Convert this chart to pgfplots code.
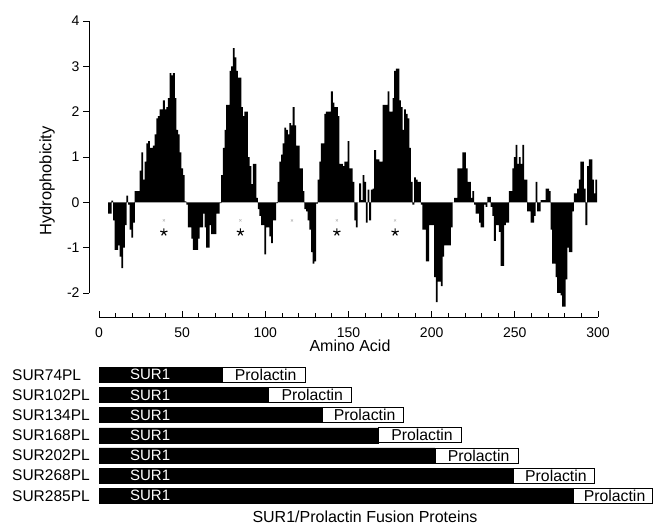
\documentclass[border=0pt]{standalone}
\usepackage{fontspec}
\setmainfont{Liberation Sans}
\usepackage{pgfplots}
\pgfplotsset{compat=1.18}
\begin{document}
\begin{tikzpicture}[x=1pt,y=1pt]
\path[use as bounding box] (0,0) rectangle (655,525);
% x axis line (detached)
\begin{axis}[
  at={(99pt,208pt)}, anchor=south west,
  scale only axis, width=499pt, height=20pt,
  xmin=0, xmax=300, ymin=0, ymax=1,
  axis x line=bottom, axis y line=none,
  xtick={0,50,...,300}, xticklabels={0,50,100,150,200,250,300},
  minor xtick={10,20,...,290}, ytick=\empty,
  tick align=inside,
  major tick length=6pt, minor tick length=3.5pt,
  tick style={black, line width=0.8pt},
  axis line style={line width=0.8pt, -},
  ticklabel style={font=\fontsize{14}{16}\selectfont},
  xticklabel style={yshift=-7pt},
]
\addplot[draw=none] coordinates {(0,0) (300,1)};
\end{axis}
% y axis line (detached)
\begin{axis}[
  at={(89pt,232pt)}, anchor=south west,
  scale only axis, width=10pt, height=272pt,
  xmin=0, xmax=1, ymin=-2, ymax=4,
  axis y line=left, axis x line=none,
  ytick={-2,-1,...,4}, yticklabels={-2,-1,0,1,2,3,4}, xtick=\empty,
  tick align=outside,
  major tick length=6pt,
  tick style={black, line width=0.8pt},
  axis line style={line width=0.8pt, -},
  ticklabel style={font=\fontsize{14}{16}\selectfont},
]
\addplot[draw=none] coordinates {(0,-2) (1,4)};
\end{axis}
% data
\begin{axis}[
  at={(99pt,232pt)}, anchor=south west,
  scale only axis, width=499pt, height=272pt,
  xmin=0, xmax=300, ymin=-2, ymax=4,
  hide axis, clip=false,
  ybar, bar width=1.8pt,
]
\addplot[fill=black, draw=none] coordinates {
(6,-0.25) (7,-0.25) (8,0.04) (9,-0.4) (10,-1.05) (11,-1.05) (12,-0.95) (13,-1.2) (14,-1.45) (15,-1.0)
(16,-0.5) (17,0.15) (18,-0.05) (19,-0.6) (20,-0.78) (21,-0.45) (22,0.25) (23,0.25) (24,0.25) (25,0.7)
(26,1.1) (27,0.5) (28,0.9) (29,1.3) (30,1.35) (31,1.2) (32,1.2) (33,1.25) (34,1.5) (35,1.85)
(36,1.9) (37,2.05) (38,2.05) (39,2.25) (40,2.05) (41,2.1) (42,2.3) (43,2.85) (44,2.8) (45,2.85)
(46,2.3) (47,1.6) (48,1.5) (49,1.1) (50,0.75) (51,0.6) (52,0.02) (53,-0.05) (54,-0.55) (55,-0.55)
(56,-0.8) (57,-1.05) (58,-1.05) (59,-1.05) (60,-0.8) (61,-0.55) (62,-0.55) (63,-0.25) (64,-0.55) (65,-1.0)
(66,-1.0) (67,-0.5) (68,-0.7) (69,-0.7) (70,-0.7) (71,-0.25) (72,-0.25) (73,-0.02) (74,0.6) (75,1.2)
(76,1.6) (77,2.15) (78,2.15) (79,2.9) (80,3.0) (81,3.4) (82,3.2) (83,2.9) (84,2.75) (85,2.75)
(86,2.1) (87,1.9) (88,2.0) (89,2.0) (90,1.0) (91,0.8) (92,0.4) (93,0.85) (94,0.85) (95,0.1)
(96,-0.15) (97,-0.3) (98,-0.5) (99,-0.5) (100,-1.15) (101,-0.55) (102,-0.55) (103,-0.75) (104,-0.9) (105,-0.4)
(106,-0.4) (107,-0.02) (108,0.45) (109,0.9) (110,1.05) (111,1.3) (112,1.65) (113,1.6) (114,1.5) (115,1.75)
(116,1.7) (117,2.1) (118,1.7) (119,1.25) (120,1.25) (121,0.75) (122,0.75) (123,0.25) (124,-0.15) (125,-0.2)
(126,-0.4) (127,-0.6) (128,-1.1) (129,-1.35) (130,-1.3) (131,-0.03) (132,0.5) (133,0.9) (134,1.3) (135,1.3)
(136,1.95) (137,2.0) (138,2.0) (139,2.0) (140,2.45) (141,2.2) (142,2.1) (143,2.1) (144,1.9) (145,0.85)
(146,0.85) (147,0.8) (148,0.9) (149,0.9) (150,1.35) (151,0.75) (152,0.75) (153,0.45) (154,-0.4) (155,-0.55)
(156,0.0) (157,0.42) (158,0.05) (159,0.6) (160,0.45) (161,-0.45) (162,0.28) (163,-0.4) (164,0.28) (165,0.3)
(166,1.15) (167,0.95) (168,0.95) (169,0.9) (170,0.9) (171,2.15) (172,2.15) (173,2.15) (174,2.45) (175,2.0)
(176,2.0) (177,2.3) (178,2.9) (179,2.95) (180,2.95) (181,2.25) (182,2.1) (183,1.6) (184,2.05) (185,1.95)
(186,1.85) (187,1.2) (188,0.45) (189,-0.05) (190,0.55) (191,0.5) (192,0.45) (193,0.45) (194,-0.05) (195,-0.6)
(196,-0.6) (197,-1.3) (198,-1.3) (199,-0.5) (200,-0.5) (201,-0.5) (202,-1.65) (203,-2.2) (204,-1.75) (205,-1.75)
(206,-1.85) (207,-1.2) (208,-0.95) (209,-0.95) (210,-0.95) (211,-0.95) (212,-0.55) (213,0.0) (214,0.1) (215,0.1)
(216,0.75) (217,0.75) (218,0.75) (219,1.1) (220,1.1) (221,0.75) (222,0.45) (223,0.45) (224,0.1) (225,0.25)
(226,-0.05) (227,-0.25) (228,-0.25) (229,-0.45) (230,-0.55) (231,-0.55) (232,-0.05) (233,-0.1) (234,0.12) (235,0.12)
(236,-0.1) (237,-0.3) (238,-0.85) (239,-0.5) (240,-0.5) (241,-0.65) (242,-1.4) (243,-1.4) (244,-0.5) (245,-0.45)
(246,-0.45) (247,0.25) (248,0.25) (249,0.75) (250,1.0) (251,1.27) (252,0.85) (253,1.0) (254,0.85) (255,1.27)
(256,0.5) (257,0.5) (258,-0.2) (259,-0.2) (260,-0.45) (261,-0.45) (262,-0.3) (263,0.45) (264,-0.2) (265,-0.2)
(266,0.05) (267,0.05) (268,0.05) (269,0.3) (270,0.3) (271,0.25) (272,-0.6) (273,-1.35) (274,-1.35) (275,-1.65)
(276,-2.0) (277,-2.0) (278,-2.05) (279,-2.3) (280,-2.3) (281,-1.7) (282,-1.0) (283,-1.1) (284,-1.1) (285,-0.2)
(286,0.2) (287,0.2) (288,0.3) (289,0.5) (290,0.9) (291,0.9) (292,0.3) (293,-0.5) (294,0.8) (295,0.95)
(296,0.95) (297,0.5) (298,0.2) (299,0.5)
};
\end{axis}
% marks
\begin{axis}[
  at={(99pt,232pt)}, anchor=south west,
  scale only axis, width=499pt, height=272pt,
  xmin=0, xmax=300, ymin=-2, ymax=4,
  hide axis, clip=false,
]
\addplot[only marks, mark=x, mark size=1.5pt, gray!55, line width=0.5pt] coordinates {(39,-0.4) (85,-0.4) (116,-0.4) (143,-0.4) (178,-0.4)};
\addplot[only marks, mark=star, mark size=3.8pt, black, line width=1.1pt] coordinates {(39,-0.66) (85,-0.66) (143,-0.66) (178,-0.66)};
\end{axis}
\node[rotate=90, font=\fontsize{16.5}{18}\selectfont] at (47,344) {Hydrophobicity};
\node[font=\fontsize{16}{18}\selectfont] at (350,179) {Amino Acid};

% fusion protein bars
\begin{axis}[
  at={(99pt,160.3pt)}, anchor=north west,
  scale only axis, width=499pt, height=141.2pt,
  xmin=0, xmax=300, ymin=-0.5, ymax=6.5, y dir=reverse,
  xbar stacked, bar width=15pt,
  clip=false,
  axis line style={draw=none}, tick style={draw=none},
  xtick=\empty, ytick={0,1,...,6},
  yticklabels={SUR74PL,SUR102PL,SUR134PL,SUR168PL,SUR202PL,SUR268PL,SUR285PL},
  yticklabel style={anchor=west, inner sep=0pt, xshift=-87pt, font=\fontsize{15.5}{17}\selectfont},
]
\addplot[fill=black, draw=black, line width=0.5pt] coordinates {(74,0) (102,1) (134,2) (168,3) (202,4) (249,5) (285,6)};
\addplot[fill=white, draw=black, line width=0.8pt] coordinates {(50,0) (50,1) (49,2) (50,3) (50,4) (49,5) (47.5,6)};
\end{axis}
% text inside the bars
\begin{axis}[
  at={(99pt,160.3pt)}, anchor=north west,
  scale only axis, width=499pt, height=141.2pt,
  xmin=0, xmax=300, ymin=-0.5, ymax=6.5, y dir=reverse,
  hide axis, clip=false,
]
\addplot[draw=none] coordinates {(0,0) (300,6)};
\node[anchor=west, inner sep=0pt, text=white, font=\fontsize{15}{17}\selectfont] at (axis cs:18.6,0) {SUR1};
\node[anchor=west, inner sep=0pt, text=white, font=\fontsize{15}{17}\selectfont] at (axis cs:18.6,1) {SUR1};
\node[anchor=west, inner sep=0pt, text=white, font=\fontsize{15}{17}\selectfont] at (axis cs:18.6,2) {SUR1};
\node[anchor=west, inner sep=0pt, text=white, font=\fontsize{15}{17}\selectfont] at (axis cs:18.6,3) {SUR1};
\node[anchor=west, inner sep=0pt, text=white, font=\fontsize{15}{17}\selectfont] at (axis cs:18.6,4) {SUR1};
\node[anchor=west, inner sep=0pt, text=white, font=\fontsize{15}{17}\selectfont] at (axis cs:18.6,5) {SUR1};
\node[anchor=west, inner sep=0pt, text=white, font=\fontsize{15}{17}\selectfont] at (axis cs:18.6,6) {SUR1};
\node[xshift=2pt, font=\fontsize{15.8}{17}\selectfont] at (axis cs:99,0) {Prolactin};
\node[xshift=2pt, font=\fontsize{15.8}{17}\selectfont] at (axis cs:127,1) {Prolactin};
\node[xshift=2pt, font=\fontsize{15.8}{17}\selectfont] at (axis cs:158.5,2) {Prolactin};
\node[xshift=2pt, font=\fontsize{15.8}{17}\selectfont] at (axis cs:193,3) {Prolactin};
\node[xshift=2pt, font=\fontsize{15.8}{17}\selectfont] at (axis cs:227,4) {Prolactin};
\node[xshift=2pt, font=\fontsize{15.8}{17}\selectfont] at (axis cs:273.5,5) {Prolactin};
\node[xshift=2pt, font=\fontsize{15.8}{17}\selectfont] at (axis cs:308.75,6) {Prolactin};
\end{axis}
\node[font=\fontsize{16}{18}\selectfont] at (365,8) {SUR1/Prolactin Fusion Proteins};
\end{tikzpicture}
\end{document}
